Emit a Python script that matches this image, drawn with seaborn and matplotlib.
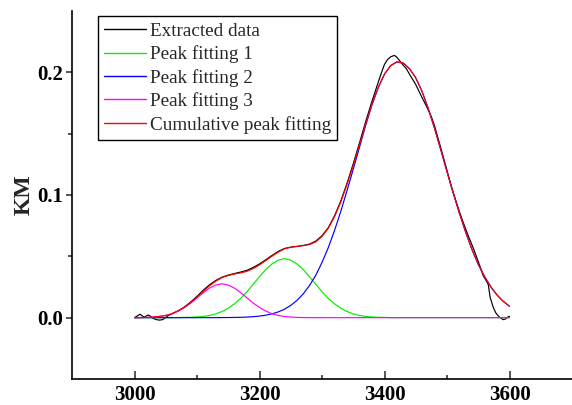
import numpy as np
import pandas as pd
import matplotlib
matplotlib.use("Agg")
import matplotlib.pyplot as plt
from matplotlib.ticker import FixedLocator, FormatStrFormatter
import seaborn as sns

# ---------------- data ----------------
fit_x = list(range(3000, 3601, 10))

peak1 = [0, 0, 0, 0, 0, 0,
         0.0000, 0.0001, 0.0002, 0.0003, 0.0006, 0.0010, 0.0018, 0.0031, 0.0050, 0.0077,
         0.0113, 0.0158, 0.0212, 0.0273, 0.0334, 0.0392, 0.0438, 0.0469, 0.0482, 0.0469,
         0.0438, 0.0392, 0.0334, 0.0273, 0.0212, 0.0158, 0.0113, 0.0077, 0.0050, 0.0031,
         0.0018, 0.0010, 0.0006, 0.0003, 0.0002, 0.0001, 0.0000,
         0, 0, 0, 0, 0, 0, 0, 0, 0, 0, 0, 0, 0, 0, 0, 0, 0, 0]

peak2 = [0, 0, 0, 0, 0, 0, 0, 0, 0, 0, 0, 0, 0, 0,
         0.0001, 0.0001, 0.0002, 0.0003, 0.0005, 0.0008, 0.0013, 0.0020, 0.0031, 0.0047,
         0.0069, 0.0100, 0.0141, 0.0194, 0.0262, 0.0345, 0.0450, 0.0570, 0.0710, 0.0865,
         0.1035, 0.1210, 0.1390, 0.1570, 0.1735, 0.1875, 0.1985, 0.2055, 0.2085, 0.2075,
         0.2030, 0.1955, 0.1845, 0.1705, 0.1545, 0.1370, 0.1190, 0.1015, 0.0850, 0.0695,
         0.0555, 0.0435, 0.0335, 0.0252, 0.0185, 0.0133, 0.0093]

peak3 = [0.0000, 0.0001, 0.0002, 0.0005, 0.0010, 0.0018, 0.0032, 0.0054, 0.0083, 0.0119,
         0.0161, 0.0204, 0.0241, 0.0266, 0.0276, 0.0266, 0.0241, 0.0204, 0.0161, 0.0119,
         0.0083, 0.0054, 0.0032, 0.0018, 0.0010, 0.0005, 0.0002, 0.0001,
         0, 0, 0, 0, 0, 0, 0, 0, 0, 0, 0, 0, 0, 0, 0, 0, 0, 0, 0, 0, 0, 0, 0, 0, 0,
         0, 0, 0, 0, 0, 0, 0, 0]

ex_x = [3000, 3005, 3009, 3013, 3016, 3019, 3022, 3026, 3030, 3035,
        3040, 3045, 3050, 3055, 3060, 3070, 3080, 3090, 3100, 3110,
        3120, 3130, 3140, 3150, 3160, 3170, 3180, 3190, 3200, 3210,
        3220, 3230, 3240, 3250, 3260, 3270, 3280, 3290, 3300, 3310,
        3320, 3330, 3340, 3350, 3360, 3370, 3380, 3390, 3395, 3400,
        3405, 3410, 3416, 3420, 3425, 3430, 3435, 3441, 3446, 3450,
        3454, 3460, 3468, 3475, 3480, 3490, 3500, 3505, 3510, 3520,
        3525, 3530, 3534, 3542, 3550, 3558, 3564, 3566, 3569, 3574,
        3578, 3582, 3586, 3590, 3594, 3598, 3600]
ex_y = [0.0000, 0.0016, 0.0028, 0.0012, 0.0004, 0.0014, 0.0022, 0.0010, -0.0006, -0.0016,
        -0.0020, -0.0016, 0.0002, 0.0020, 0.0033, 0.0056, 0.0088, 0.0128, 0.0174, 0.0224,
        0.0268, 0.0303, 0.0330, 0.0347, 0.0360, 0.0372, 0.0386, 0.0410, 0.0438, 0.0472,
        0.0507, 0.0540, 0.0564, 0.0575, 0.0581, 0.0589, 0.0600, 0.0624, 0.0668, 0.0733,
        0.0830, 0.0950, 0.1095, 0.1255, 0.1425, 0.1600, 0.1765, 0.1920, 0.1995, 0.2065,
        0.2105, 0.2127, 0.2138, 0.2122, 0.2090, 0.2058, 0.2030, 0.1975, 0.1935, 0.1900,
        0.1858, 0.1795, 0.1715, 0.1638, 0.1565, 0.1385, 0.1200, 0.1105, 0.1020, 0.0862,
        0.0790, 0.0722, 0.0668, 0.0568, 0.0458, 0.0342, 0.0290, 0.0270, 0.0166, 0.0084,
        0.0040, 0.0014, -0.0004, -0.0016, -0.0010, 0.0008, 0.0010]

labels = ["Extracted data", "Peak fitting 1", "Peak fitting 2",
          "Peak fitting 3", "Cumulative peak fitting"]
colors = ["#000000", "#00ee00", "#0000ff", "#ff00ff", "#ff0000"]

x_ticks = [3000, 3200, 3400, 3600]
x_minor = [3100, 3300, 3500]
y_ticks = [0.0, 0.1, 0.2]
y_minor = [0.05, 0.15]

# ---------------- figure ----------------
sns.set_style("ticks")
plt.rcParams["font.family"] = ["Liberation Serif", "DejaVu Serif"]

fits = pd.DataFrame({"x": fit_x, "p1": peak1, "p2": peak2, "p3": peak3})
fits["cum"] = fits["p1"] + fits["p2"] + fits["p3"]

fig = plt.figure(figsize=(5.72, 4.05), dpi=100)
ax = fig.add_axes([72 / 572, 26 / 405, 500 / 572, 368 / 405])

lw = 0.85
sns.lineplot(x=ex_x, y=ex_y, ax=ax, color=colors[0], lw=lw, label=labels[0],
             sort=False, estimator=None)
sns.lineplot(data=fits, x="x", y="p1", ax=ax, color=colors[1], lw=lw, label=labels[1])
sns.lineplot(data=fits, x="x", y="p2", ax=ax, color=colors[2], lw=lw, label=labels[2])
sns.lineplot(data=fits, x="x", y="p3", ax=ax, color=colors[3], lw=lw, label=labels[3])
sns.lineplot(data=fits, x="x", y="cum", ax=ax, color=colors[4], lw=lw, label=labels[4])

ax.set_xlim(2900, 3700)
ax.set_ylim(-0.05, 0.25)
ax.set_xticks(x_ticks)
ax.set_yticks(y_ticks)
ax.xaxis.set_minor_locator(FixedLocator(x_minor))
ax.yaxis.set_minor_locator(FixedLocator(y_minor))
ax.yaxis.set_major_formatter(FormatStrFormatter("%.1f"))

for s in ["top", "right"]:
    ax.spines[s].set_visible(False)
for s in ["left", "bottom"]:
    ax.spines[s].set_linewidth(1.2)
    ax.spines[s].set_color("black")

ax.tick_params(axis="x", which="major", direction="in", length=5.8, width=1.1, pad=4.5)
ax.tick_params(axis="x", which="minor", direction="in", length=3.0, width=1.1)
ax.tick_params(axis="y", which="major", direction="out", length=4.0, width=1.1, pad=2.5)
ax.tick_params(axis="y", which="minor", direction="out", length=2.6, width=1.1)
for t in ax.get_xticklabels() + ax.get_yticklabels():
    t.set_fontweight("bold")
    t.set_fontsize(15)
    t.set_color("black")

ax.set_xlabel("")
ax.set_ylabel("KM", fontsize=17, fontweight="bold", labelpad=2)

leg = ax.legend(loc="upper left", bbox_to_anchor=(0.052, 0.986), borderaxespad=0,
                fontsize=13.8, frameon=True, fancybox=False, edgecolor="black",
                handlelength=2.15, handletextpad=0.22, borderpad=0.33,
                labelspacing=0.29, framealpha=1)
leg.get_frame().set_linewidth(1.0)
for line in leg.get_lines():
    line.set_linewidth(1.0)

fig.savefig("out.png", dpi=100)
